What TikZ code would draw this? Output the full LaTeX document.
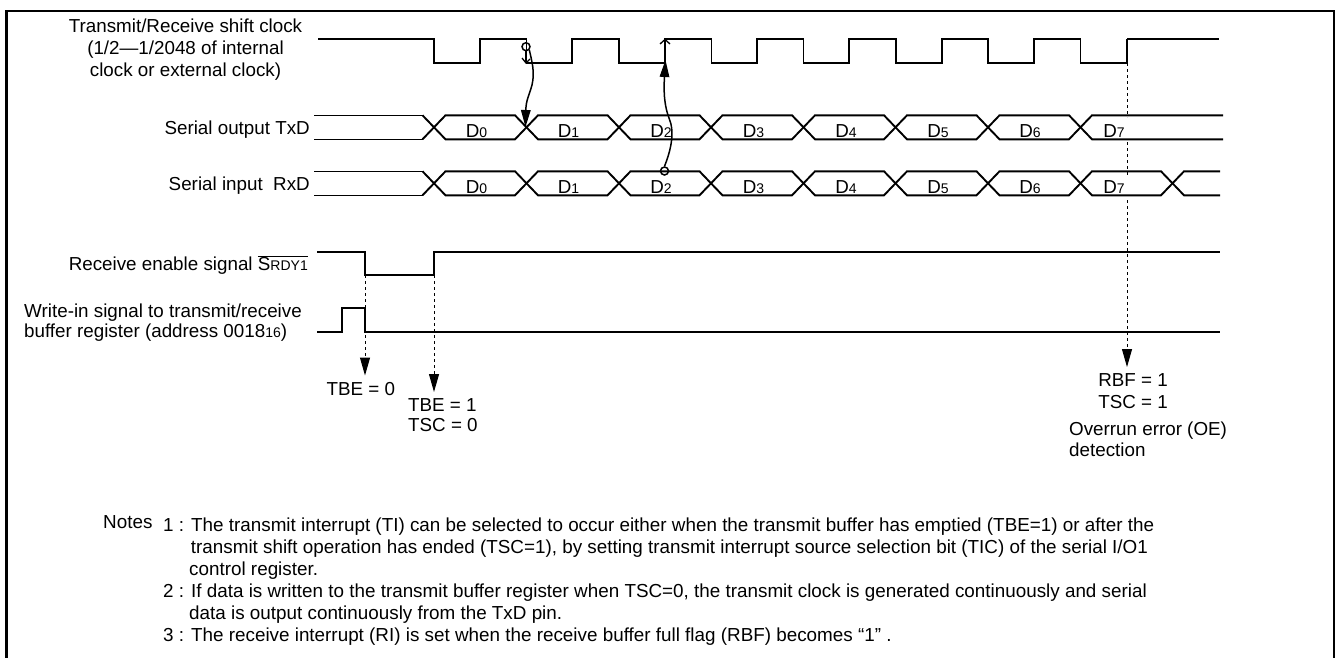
\documentclass[tikz,border=0pt]{standalone}
\usepackage{fontspec}
\setmainfont{Liberation Sans}
\usetikzlibrary{arrows.meta}
\newcommand{\sm}[1]{{\fontsize{14}{14}\selectfont #1}}
\tikzset{
  sig/.style={line width=1.9pt,line join=miter},
  thinsig/.style={line width=1.2pt},
  dashline/.style={line width=1pt,dash pattern=on 3pt off 3pt},
  droptip/.style={-{Triangle[length=18pt,width=10pt]}},
  waveflow/.style={line width=1.5pt,-{Triangle[length=17pt,width=9.5pt]}},
  ring/.style={circle,draw,line width=1.5pt,inner sep=0pt,minimum size=8pt,fill=none},
  lab/.style={inner sep=0pt,font=\fontsize{18.8}{22}\selectfont},
  notetxt/.style={inner sep=0pt,anchor=base west,font=\fontsize{18.85}{20}\selectfont},
  dat/.style={inner sep=0pt,anchor=base,font=\fontsize{18.8}{22}\selectfont}
}
\begin{document}
\begin{tikzpicture}[x=1pt,y=-1pt]
\useasboundingbox (0,0) rectangle (1337,657);
% frame (bottom edge lies outside the picture)
\draw[line width=2.6pt,line join=miter] (6.5,660) -- (6.5,11) -- (1334,11) -- (1334,660);

% clock
\draw[thinsig] (318,39) -- (387,39);
\draw[sig] (387,39) -- (434,39) -- (434,63) -- (480,63) -- (480,39) -- (526.5,39) -- (526.5,63)
  -- (572,63) -- (572,39) -- (619,39) -- (619,63) -- (665,63) -- (665,39) -- (711.5,39) -- (711.5,63)
  -- (757,63) -- (757,39) -- (803.5,39) -- (803.5,63) -- (849,63) -- (849,39) -- (896,39) -- (896,63)
  -- (942,63) -- (942,39) -- (988,39) -- (988,63) -- (1034,63) -- (1034,39) -- (1080.5,39) -- (1080.5,63)
  -- (1127,63) -- (1127,39);
\draw[thinsig] (1127,39) -- (1219,39);

% TxD
\foreach \yt/\yb/\en in {115.3/139.3/1223}{
  \draw[thinsig] (314,\yt) -- (422.5,\yt);
  \draw[thinsig] (314,\yb) -- (422.5,\yb);
  \draw[sig] (422.5,\yt) -- (445.5,\yb) -- (515,\yb) -- (538,\yt) -- (607.5,\yt) -- (630.5,\yb) -- (699.5,\yb) -- (722.5,\yt) -- (792,\yt) -- (815,\yb) -- (884,\yb) -- (907,\yt) -- (976.5,\yt) -- (999.5,\yb) -- (1069,\yb) -- (1092,\yt) -- (\en,\yt);
  \draw[sig] (422.5,\yb) -- (445.5,\yt) -- (515,\yt) -- (538,\yb) -- (607.5,\yb) -- (630.5,\yt) -- (699.5,\yt) -- (722.5,\yb) -- (792,\yb) -- (815,\yt) -- (884,\yt) -- (907,\yb) -- (976.5,\yb) -- (999.5,\yt) -- (1069,\yt) -- (1092,\yb) -- (\en,\yb);
}
% RxD
\foreach \yt/\yb/\en in {171.3/195.3/1220}{
  \draw[thinsig] (314,\yt) -- (422.5,\yt);
  \draw[thinsig] (314,\yb) -- (422.5,\yb);
  \draw[sig] (422.5,\yt) -- (445.5,\yb) -- (515,\yb) -- (538,\yt) -- (607.5,\yt) -- (630.5,\yb) -- (699.5,\yb) -- (722.5,\yt) -- (792,\yt) -- (815,\yb) -- (884,\yb) -- (907,\yt) -- (976.5,\yt) -- (999.5,\yb) -- (1069,\yb) -- (1092,\yt) -- (1161,\yt) -- (1184,\yb) -- (\en,\yb);
  \draw[sig] (422.5,\yb) -- (445.5,\yt) -- (515,\yt) -- (538,\yb) -- (607.5,\yb) -- (630.5,\yt) -- (699.5,\yt) -- (722.5,\yb) -- (792,\yb) -- (815,\yt) -- (884,\yt) -- (907,\yb) -- (976.5,\yb) -- (999.5,\yt) -- (1069,\yt) -- (1092,\yb) -- (1161,\yb) -- (1184,\yt) -- (\en,\yt);
}
% SRDY and write-in
\draw[sig] (317,251.7) -- (365,251.7) -- (365,275) -- (434,275) -- (434,251.7) -- (1220,251.7);
\draw[sig] (317,331.7) -- (341.7,331.7) -- (341.7,307.7) -- (365,307.7) -- (365,331.7) -- (1220,331.7);

% data labels
\foreach \xx/\dd in {476.5/0,568.5/1,661/2,753.5/3,846/4,938/5,1030/6,1114/7}{
  \node[dat] at (\xx,137) {D\sm{\dd}};
  \node[dat] at (\xx,193) {D\sm{\dd}};
}

% dotted drops
\coordinate (a1) at (365,275);
\coordinate (a2) at (365,375.5);
\coordinate (b1) at (434,275);
\coordinate (b2) at (434,392);
\coordinate (c1) at (1127,63);
\coordinate (c2) at (1127,117);
\coordinate (c3) at (1127,142);
\coordinate (c4) at (1127,175);
\coordinate (c5) at (1127,200);
\coordinate (c6) at (1127,367);
\draw[dashline,droptip] (a1) -- (a2);
\draw[dashline,droptip] (b1) -- (b2);
\draw[dashline] (c1) -- (c2);
\draw[dashline] (c3) -- (c4);
\draw[dashline,droptip] (c5) -- (c6);

% timing arrows
\node[ring] (r1) at (526,46.7) {};
\node[ring] (r2) at (664.5,171) {};
\coordinate (t1) at (525.5,127);
\coordinate (t2) at (665.5,60);
\coordinate (v1) at (526,63);
\coordinate (v1l) at (522,58);
\coordinate (v1r) at (530,59);
\coordinate (v2) at (665,39.5);
\coordinate (v2l) at (660,44);
\coordinate (v2r) at (670,44);
\coordinate (v2b) at (665,63);
\draw[line width=1.5pt] (r1.south) -- (v1);
\draw[line width=1.3pt] (v1l) -- (v1) -- (v1r);
\draw[waveflow] (r1.south east) .. controls (532,62) and (535,72) .. (532,85)
   .. controls (529,96) and (526,100) .. (t1);
\draw[line width=1.5pt] (v2b) -- (v2);
\draw[line width=1.3pt] (v2l) -- (v2) -- (v2r);
\draw[waveflow] (r2.north) .. controls (671,150) and (675,132) .. (669,118)
   .. controls (663,102) and (664,85) .. (t2);

% left labels
\node[lab,align=center] (l1) at (185.5,50) {Transmit/Receive shift clock\\(1/2—1/2048 of internal\\clock or external clock)};
\node[lab,anchor=base east] (l2) at (310,134) {Serial output TxD};
\node[lab,anchor=base east] (l3) at (310,190.5) {Serial input\ \ RxD};
\node[lab,anchor=base east] (l4) at (308,270.7) {Receive enable signal $\overline{\mbox{S\sm{RDY1}}}$};
\node[lab,anchor=base east] (l5) at (302,317) {Write-in signal to transmit/receive};
\node[lab,anchor=base west] (l6) at (24,337.3) {buffer register (address 0018\sm{16})};

% flag labels
\node[lab,anchor=base west] (f1) at (326.5,395) {TBE = 0};
\node[lab,anchor=base west] (f2) at (408,411) {TBE = 1};
\node[lab,anchor=base west] (f3) at (408,431.5) {TSC = 0};
\node[lab,anchor=base east] (f4) at (1168,386) {RBF = 1};
\node[lab,anchor=base east] (f5) at (1168,408) {TSC = 1};
\node[lab,anchor=base west] (f6) at (1069,435) {Overrun error (OE)};
\node[lab,anchor=base west] (f7) at (1069,456) {detection};

% notes
\node[notetxt] (n0) at (103,528.5) {Notes};
\node[notetxt] (n1) at (163,531) {1 : The transmit interrupt (TI) can be selected to occur either when the transmit buffer has emptied (TBE=1) or after the};
\node[notetxt] (n2) at (190.7,553) {transmit shift operation has ended (TSC=1), by setting transmit interrupt source selection bit (TIC) of the serial I/O1};
\node[notetxt] (n3) at (189,575.5) {control register.};
\node[notetxt] (n4) at (163,597) {2 : If data is written to the transmit buffer register when TSC=0, the transmit clock is generated continuously and serial};
\node[notetxt] (n5) at (189,619) {data is output continuously from the TxD pin.};
\node[notetxt] (n6) at (163,641) {3 : The receive interrupt (RI) is set when the receive buffer full flag (RBF) becomes “1” .};
\end{tikzpicture}
\end{document}
